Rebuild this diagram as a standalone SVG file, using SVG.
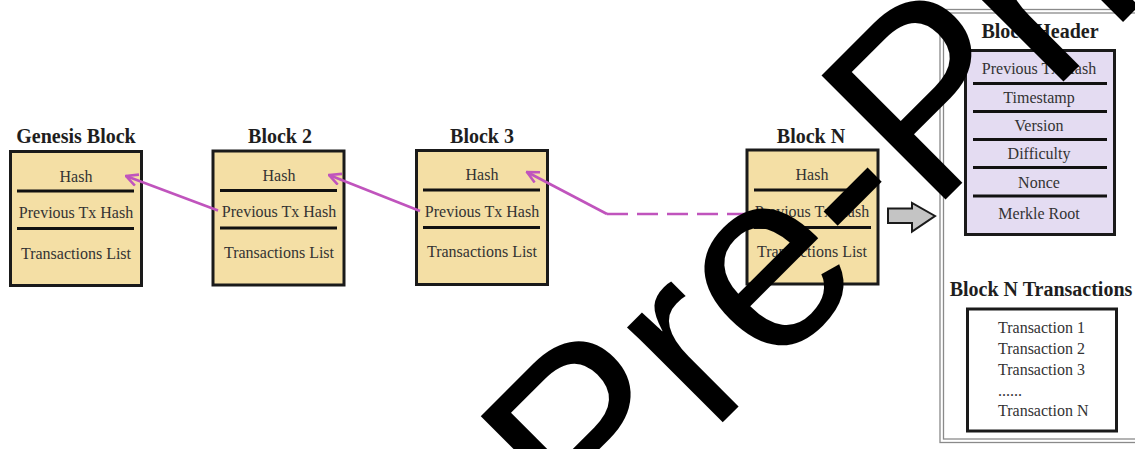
<svg xmlns="http://www.w3.org/2000/svg" width="1135" height="449" viewBox="0 0 1135 449">
<style>
  .title { font-family: "Liberation Serif", "DejaVu Serif", serif; font-weight: bold; font-size: 20px; fill: #1e1e1e; text-anchor: middle; }
  .lbl { font-family: "Liberation Serif", "DejaVu Serif", serif; font-size: 16px; fill: #333; text-anchor: middle; }
  .tx { font-family: "Liberation Serif", "DejaVu Serif", serif; font-size: 16px; fill: #333; }
  .blk { fill: #f4dfa5; stroke: #1a1a1a; stroke-width: 3; }
  .hdr { fill: #e4dcf2; stroke: #1a1a1a; stroke-width: 3; }
  .sep { stroke: #111; stroke-width: 3; }
  .link { fill: none; stroke: #c054bd; stroke-width: 2.6; }
  .frame { fill: none; stroke: #8a8a8a; stroke-width: 1.3; }
  .wm { font-family: "Liberation Sans", Arial, sans-serif; font-size: 255px; fill: #000; }
</style>
<defs>
  <marker id="open" viewBox="0 0 12 12" refX="11" refY="6" markerWidth="14" markerHeight="14" markerUnits="userSpaceOnUse" orient="auto">
    <path d="M1,1 L11,6 L1,11" fill="none" stroke="#c054bd" stroke-width="2.2"/>
  </marker>
</defs>
<rect width="1135" height="449" fill="#fff"/>

<g id="genesis-block">
  <text class="title" x="76" y="143">Genesis Block</text>
  <rect class="blk" x="10.5" y="151.5" width="131" height="134"/>
  <line class="sep" x1="17" y1="191" x2="134" y2="191"/>
  <line class="sep" x1="17" y1="228.5" x2="134" y2="228.5"/>
  <text class="lbl" x="76" y="182">Hash</text>
  <text class="lbl" x="76" y="218">Previous Tx Hash</text>
  <text class="lbl" x="76" y="259">Transactions List</text>
</g>

<g id="block-2">
  <text class="title" x="280" y="143">Block 2</text>
  <rect class="blk" x="213" y="151" width="131" height="134"/>
  <line class="sep" x1="220" y1="190.5" x2="337" y2="190.5"/>
  <line class="sep" x1="220" y1="228" x2="337" y2="228"/>
  <text class="lbl" x="279" y="181">Hash</text>
  <text class="lbl" x="279" y="217">Previous Tx Hash</text>
  <text class="lbl" x="279" y="258">Transactions List</text>
</g>

<g id="block-3">
  <text class="title" x="482" y="143">Block 3</text>
  <rect class="blk" x="416.5" y="150.5" width="131" height="134"/>
  <line class="sep" x1="423" y1="190" x2="540" y2="190"/>
  <line class="sep" x1="423" y1="227.5" x2="540" y2="227.5"/>
  <text class="lbl" x="482" y="180">Hash</text>
  <text class="lbl" x="482" y="217">Previous Tx Hash</text>
  <text class="lbl" x="482" y="257">Transactions List</text>
</g>

<g id="block-n">
  <text class="title" x="811" y="143">Block N</text>
  <rect class="blk" x="747" y="150" width="131" height="134"/>
  <line class="sep" x1="754" y1="190" x2="871" y2="190"/>
  <line class="sep" x1="754" y1="227.5" x2="871" y2="227.5"/>
  <text class="lbl" x="812" y="180">Hash</text>
  <text class="lbl" x="812" y="217">Previous Tx Hash</text>
  <text class="lbl" x="812" y="257">Transactions List</text>
</g>

<g id="detail-panel">
  <rect class="frame" x="940" y="9.5" width="210" height="433"/>
  <rect class="frame" x="943.5" y="13" width="210" height="426"/>
</g>

<g id="block-header">
  <text class="title" x="1040" y="38">Block Header</text>
  <rect class="hdr" x="965.5" y="50.5" width="149" height="184"/>
  <line class="sep" x1="973" y1="83.5" x2="1107" y2="83.5"/>
  <line class="sep" x1="973" y1="111.5" x2="1107" y2="111.5"/>
  <line class="sep" x1="973" y1="139.5" x2="1107" y2="139.5"/>
  <line class="sep" x1="973" y1="167.5" x2="1107" y2="167.5"/>
  <line class="sep" x1="973" y1="196" x2="1107" y2="196"/>
  <text class="lbl" x="1039" y="74">Previous Tx Hash</text>
  <text class="lbl" x="1039" y="103">Timestamp</text>
  <text class="lbl" x="1039" y="131">Version</text>
  <text class="lbl" x="1039" y="159">Difficulty</text>
  <text class="lbl" x="1039" y="188">Nonce</text>
  <text class="lbl" x="1039" y="219">Merkle Root</text>
</g>

<g id="block-n-transactions">
  <text class="title" x="1041" y="296">Block N Transactions</text>
  <rect x="967.5" y="309" width="149" height="122" fill="#fff" stroke="#1a1a1a" stroke-width="3"/>
  <text class="tx" x="998" y="333">Transaction 1</text>
  <text class="tx" x="998" y="354">Transaction 2</text>
  <text class="tx" x="998" y="375">Transaction 3</text>
  <text class="tx" x="998" y="396">......</text>
  <text class="tx" x="998" y="416">Transaction N</text>
</g>

<g id="connectors">
  <line class="link" x1="218" y1="210.5" x2="126" y2="176" marker-end="url(#open)"/>
  <line class="link" x1="420" y1="211" x2="329" y2="175" marker-end="url(#open)"/>
  <polyline class="link" points="607,214 527,172" marker-end="url(#open)"/>
  <line class="link" x1="607" y1="214" x2="747" y2="214" stroke-dasharray="21 9"/>
  <path d="M888,208.5 H912 V203 L935,216 L912,231.5 V223 H888 Z" fill="#c4c4c4" stroke="#1a1a1a" stroke-width="2"/>
</g>

<g id="watermark">
  <text class="wm" transform="translate(590,555) rotate(-45)">Pre-Print</text>
</g>
</svg>
